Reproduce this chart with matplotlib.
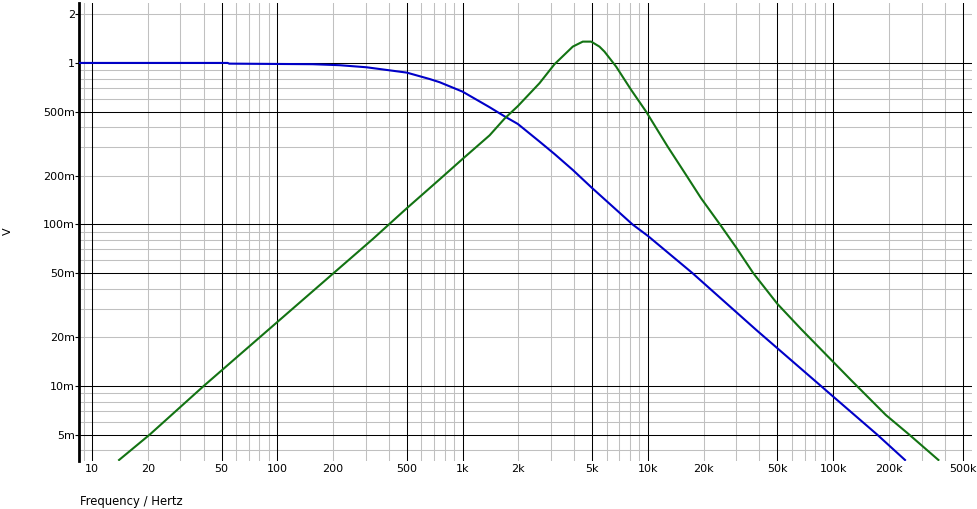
"""Bode-style magnitude plot: low-pass (blue) and band-pass (green) responses,
log-log, with the black/grey decade grid of the original simulator screenshot."""
import matplotlib as mpl
import matplotlib.pyplot as plt

mpl.rcParams.update({"font.family": "DejaVu Sans", "font.size": 8})

# --- data (Hz, V) ---
LP_FREQ = [8.5, 54.0, 55.0, 155, 217, 303, 500, 664, 751, 1000, 1398, 1684,
           1986, 2600, 3133, 3932, 5000, 8260, 10000, 17380, 38460, 100000,
           172600, 244000]
LP_VOLT = [1.0, 1.0, 0.990, 0.982, 0.968, 0.940, 0.871, 0.795, 0.760, 0.664,
           0.532, 0.467, 0.419, 0.326, 0.273, 0.2175, 0.168, 0.100, 0.0849,
           0.050, 0.0222, 0.00859, 0.005, 0.00348]

BP_FREQ = [14.0, 20.5, 40.1, 328, 500, 751, 1000, 1398, 1684, 1986, 2600,
           3133, 3932, 4452, 4943, 5477, 5830, 6741, 8120, 9775, 12790, 16070,
           19360, 24810, 29890, 37050, 50000, 66980, 124600, 192300, 257000,
           369600]
BP_VOLT = [0.00348, 0.005, 0.010, 0.0813, 0.126, 0.190, 0.2545, 0.356, 0.452,
           0.540, 0.749, 0.982, 1.262, 1.355, 1.355, 1.262, 1.175, 0.948,
           0.681, 0.5, 0.303, 0.2025, 0.1453, 0.0979, 0.0722, 0.0499, 0.0322,
           0.02254, 0.01089, 0.00661, 0.005, 0.00348]

X_TICKS = [10, 20, 50, 100, 200, 500, 1e3, 2e3, 5e3, 1e4, 2e4, 5e4, 1e5, 2e5, 5e5]
X_LABELS = ["10", "20", "50", "100", "200", "500", "1k", "2k", "5k", "10k",
            "20k", "50k", "100k", "200k", "500k"]
Y_TICKS = [2, 1, 0.5, 0.2, 0.1, 0.05, 0.02, 0.01, 0.005]
Y_LABELS = ["2", "1", "500m", "200m", "100m", "50m", "20m", "10m", "5m"]

XLIM = (8.51, 561e3)
YLIM = (3.43e-3, 2.35)

BLUE, GREEN = "#0000C8", "#137313"
GRID_MAJOR, GRID_MINOR = "#000000", "#C0C0C0"

fig = plt.figure(figsize=(9.78, 5.09), dpi=100)
ax = fig.add_axes([79 / 978, 1 - 461 / 509, (972 - 79) / 978, (461 - 3) / 509])
ax.set_xscale("log"); ax.set_yscale("log")
ax.set_xlim(*XLIM); ax.set_ylim(*YLIM)

# decade grid: black at 1 and 5 of each decade, grey for the other integers
for e in range(0, 7):
    for m in range(1, 10):
        v = m * 10.0 ** e
        if XLIM[0] <= v <= XLIM[1]:
            ax.axvline(v, color=GRID_MAJOR if m in (1, 5) else GRID_MINOR,
                       lw=0.75, zorder=1 if m in (1, 5) else 0)
for e in range(-3, 1):
    for m in range(1, 10):
        v = m * 10.0 ** e
        if YLIM[0] <= v <= YLIM[1]:
            ax.axhline(v, color=GRID_MAJOR if m in (1, 5) else GRID_MINOR,
                       lw=0.75, zorder=1 if m in (1, 5) else 0)

ax.plot(LP_FREQ, LP_VOLT, color=BLUE, lw=1.5, zorder=3)
ax.plot(BP_FREQ, BP_VOLT, color=GREEN, lw=1.5, zorder=3)

ax.set_xticks(X_TICKS, X_LABELS)
ax.set_yticks(Y_TICKS, Y_LABELS)
ax.minorticks_off()
ax.tick_params(axis="x", length=0, pad=2, labelsize=8)
ax.tick_params(axis="y", length=3, width=0.8, pad=0, labelsize=8)

for sp in ("top", "right", "bottom"):
    ax.spines[sp].set_visible(False)
ax.spines["left"].set_linewidth(2.0)

fig.text(8 / 978, 1 - 231 / 509, "V", rotation=90, ha="center", va="center", fontsize=8)
fig.text(80 / 978, 1 - 501 / 509, "Frequency / Hertz", ha="left", va="center", fontsize=8.4)

fig.savefig("out.png", dpi=100)
